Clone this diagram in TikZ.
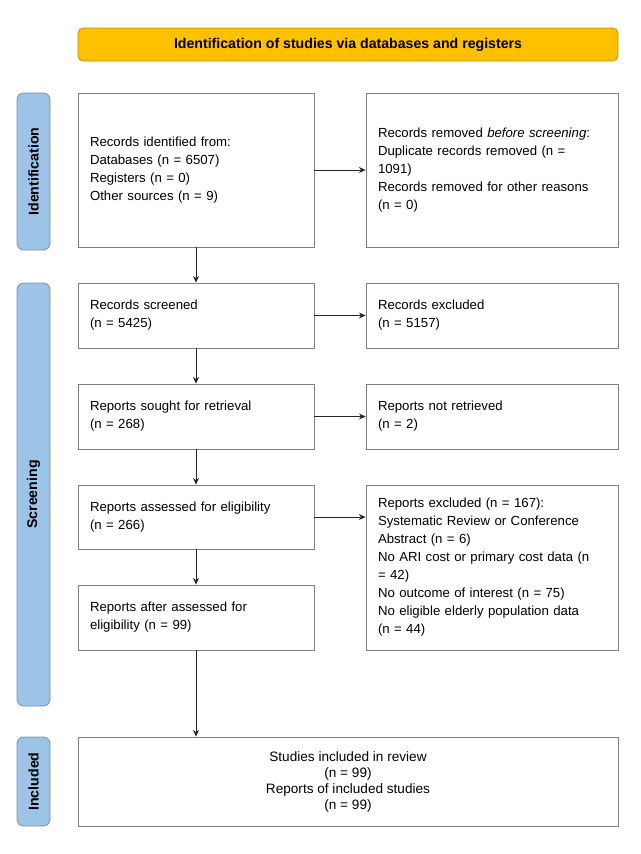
\documentclass[tikz,border=0pt]{standalone}
\usepackage{fontspec}
\setmainfont{Liberation Sans}
\usetikzlibrary{arrows.meta}
\definecolor{hdrfill}{HTML}{FFC000}
\definecolor{hdrline}{HTML}{BF9000}
\definecolor{sidefill}{HTML}{9DC3E6}
\definecolor{sideline}{HTML}{7A8FA8}
\definecolor{boxline}{HTML}{7F7F7F}
\tikzset{
  txt/.style={font=\fontsize{9.9pt}{13.5pt}\selectfont},
  flowbox/.style={draw=boxline, line width=0.6pt, align=left, txt, inner sep=0pt},
  leftbox/.style={flowbox, minimum width=177pt, text width=159pt},
  rightbox/.style={flowbox, minimum width=189pt, text width=171pt},
  sidebox/.style={draw=sideline, fill=sidefill, rounded corners=5pt, line width=0.6pt,
     minimum width=24.75pt, font=\bfseries\fontsize{10.6pt}{12pt}\selectfont, inner sep=0pt},
  header/.style={draw=hdrline, fill=hdrfill, rounded corners=4pt, line width=0.6pt,
     minimum width=405pt, minimum height=24.75pt, font=\bfseries\fontsize{10.6pt}{12pt}\selectfont},
  flowarrow/.style={-{Stealth[length=5pt,width=4.5pt]}, line width=0.6pt, black!85}
}
\begin{document}
\begin{tikzpicture}[x=0.75pt,y=-0.75pt]
\useasboundingbox (0,0) rectangle (640,854);
\node[header] (hdr) at (348,44.5) {Identification of studies via databases and registers};
\node[sidebox, minimum height=117.75pt] (sid) at (33.5,171.5) {\rotatebox{90}{Identification}};
\node[sidebox, minimum height=317.25pt] (ssc) at (33.5,494.5) {\rotatebox{90}{Screening}};
\node[sidebox, minimum height=66.75pt] (sin) at (33.5,781.5) {\rotatebox{90}{Included}};

\node[leftbox, minimum height=115.5pt] (b1) at (196,170) {Records identified from:\\Databases (n = 6507)\\Registers (n = 0)\\Other sources (n = 9)};
\node[rightbox, minimum height=115.5pt] (b2) at (492,170) {Records removed \emph{before screening}:\\Duplicate records removed (n =\\1091)\\Records removed for other reasons\\(n = 0)};
\node[leftbox, minimum height=48.75pt] (b3) at (196,315.5) {Records screened\\(n = 5425)};
\node[rightbox, minimum height=48.75pt] (b4) at (492,315.5) {Records excluded\\(n = 5157)};
\node[leftbox, minimum height=48.75pt] (b5) at (196,416.5) {Reports sought for retrieval\\(n = 268)};
\node[rightbox, minimum height=48.75pt] (b6) at (492,416.5) {Reports not retrieved\\(n = 2)};
\node[leftbox, minimum height=48pt] (b7) at (196,517) {Reports assessed for eligibility\\(n = 266)};
\node[rightbox, minimum height=123.75pt] (b8) at (492,567.5) {Reports excluded (n = 167):\\Systematic Review or Conference\\Abstract (n = 6)\\No ARI cost or primary cost data (n\\= 42)\\No outcome of interest (n = 75)\\No eligible elderly population data\\(n = 44)};
\node[leftbox, minimum height=48.75pt] (b9) at (196,617.5) {Reports after assessed for\\eligibility (n = 99)};
\node[flowbox, align=center, minimum width=405pt, minimum height=66.75pt, font=\fontsize{10.2pt}{12pt}\selectfont] (b10) at (348,781.5) {Studies included in review\\(n = 99)\\Reports of included studies\\(n = 99)};

\draw[flowarrow] (b1) -- (b2);
\draw[flowarrow] (b3) -- (b4);
\draw[flowarrow] (b5) -- (b6);
\draw[flowarrow] (b7.east) -- (b7.east -| b8.west);
\draw[flowarrow] (b1) -- (b3);
\draw[flowarrow] (b3) -- (b5);
\draw[flowarrow] (b5) -- (b7);
\draw[flowarrow] (b7) -- (b9);
\draw[flowarrow] (b9.south) -- (b9.south |- b10.north);
\end{tikzpicture}
\end{document}
